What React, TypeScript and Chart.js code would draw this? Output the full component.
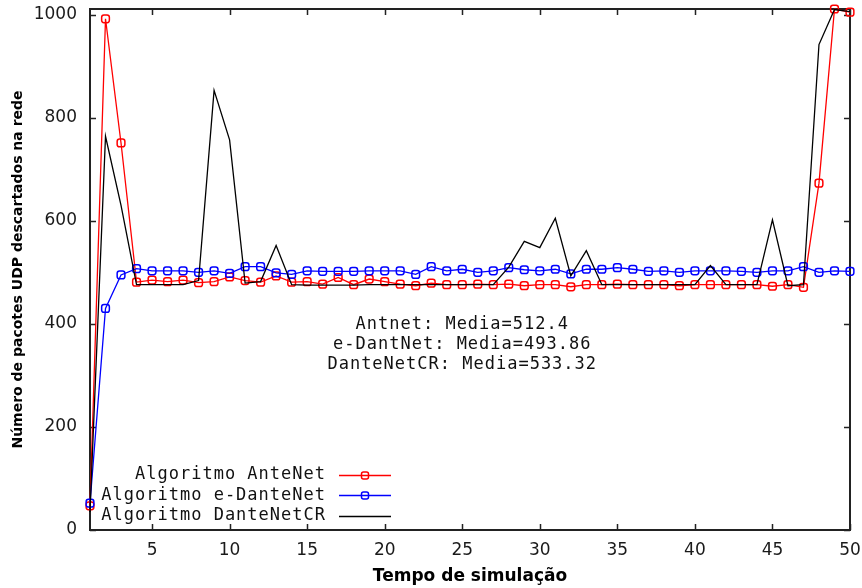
import React, { useEffect, useRef } from 'react';
import { Chart, registerables } from 'chart.js';

Chart.register(...registerables);

// ---- data ----
const steps = [1, 2, 3, 4, 5, 6, 7, 8, 9, 10, 11, 12, 13, 14, 15, 16, 17, 18, 19, 20, 21, 22, 23, 24, 25, 26, 27, 28, 29, 30, 31, 32, 33, 34, 35, 36, 37, 38, 39, 40, 41, 42, 43, 44, 45, 46, 47, 48, 49, 50];

const anteNet = [47, 992, 751, 481, 485, 482, 485, 480, 482, 491, 484, 481, 493, 481, 482, 477, 490, 476, 487, 482, 477, 474, 479, 476, 476, 477, 476, 477, 474, 476, 476, 472, 476, 476, 477, 476, 476, 476, 474, 476, 476, 476, 476, 476, 473, 476, 471, 673, 1011, 1005];

const eDanteNet = [52, 430, 495, 507, 503, 503, 503, 500, 503, 498, 511, 511, 499, 496, 503, 502, 502, 502, 503, 503, 503, 496, 511, 503, 506, 500, 503, 509, 505, 503, 506, 497, 506, 506, 509, 506, 502, 503, 500, 503, 503, 503, 502, 500, 503, 503, 511, 500, 503, 502];

const danteNetCR = [35, 764, 630, 476, 476, 476, 476, 484, 853, 757, 479, 482, 552, 476, 475, 475, 475, 475, 476, 476, 476, 476, 476, 476, 476, 476, 476, 510, 560, 548, 605, 493, 542, 476, 476, 476, 476, 476, 476, 476, 513, 476, 476, 476, 602, 474, 476, 942, 1010, 1006];

const xTicks = [5, 10, 15, 20, 25, 30, 35, 40, 45, 50];
const yTicks = [0, 200, 400, 600, 800, 1000];

const seriesLabels = ['Algoritmo AnteNet', 'Algoritmo e-DanteNet', 'Algoritmo DanteNetCR'];
const seriesColors = ['#ff0000', '#0000ff', '#000000'];
const seriesMarkers = [true, true, false];
const mediaLines = ['Antnet: Media=512.4', 'e-DantNet: Media=493.86', 'DanteNetCR: Media=533.32'];
const yTitle = 'Número de pacotes UDP descartados na rede';
const xTitle = 'Tempo de simulação';

const MONO = '17px "DejaVu Sans Mono"';

const decorPlugin = {
  id: 'decor',
  beforeDatasetsDraw(chart: any) {
    const { ctx, chartArea: a, scales } = chart;
    ctx.save();
    ctx.strokeStyle = '#222';
    ctx.lineWidth = 1.5;
    const tl = 6;
    ctx.beginPath();
    for (const v of xTicks) {
      const x = Math.round(scales.x.getPixelForValue(v)) + 0.5;
      ctx.moveTo(x, a.bottom); ctx.lineTo(x, a.bottom - tl);
      ctx.moveTo(x, a.top); ctx.lineTo(x, a.top + tl);
    }
    for (const v of yTicks) {
      const y = Math.round(scales.y.getPixelForValue(v)) + 0.5;
      ctx.moveTo(a.left, y); ctx.lineTo(a.left + tl, y);
      ctx.moveTo(a.right, y); ctx.lineTo(a.right - tl, y);
    }
    ctx.stroke();
    ctx.lineWidth = 2;
    ctx.strokeRect(a.left, a.top, a.right - a.left, a.bottom - a.top);
    ctx.restore();
  },
  afterDraw(chart: any) {
    const { ctx, chartArea: a, scales } = chart;
    ctx.save();
    ctx.font = MONO;
    (ctx as any).letterSpacing = '1px';
    ctx.fillStyle = '#111';
    ctx.textBaseline = 'middle';

    // mean annotations
    ctx.textAlign = 'center';
    const cx = scales.x.getPixelForValue(25);
    const cy = scales.y.getPixelForValue(398);
    mediaLines.forEach((t, i) => {
      ctx.fillText(t, cx, cy + i * 20);
    });

    // legend
    const textRight = a.left + 236;
    const sampleL = textRight + 13;
    const sampleR = sampleL + 52;
    seriesLabels.forEach((lab, i) => {
      const y = a.bottom - 55 + i * 20.4;
      ctx.textAlign = 'right';
      ctx.fillStyle = '#111';
      ctx.fillText(lab, textRight, y);
      ctx.strokeStyle = seriesColors[i];
      ctx.lineWidth = 1.5;
      ctx.beginPath();
      ctx.moveTo(sampleL, Math.round(y) + 0.5);
      ctx.lineTo(sampleR, Math.round(y) + 0.5);
      ctx.stroke();
      if (seriesMarkers[i]) {
        ctx.lineWidth = 1.5;
        ctx.beginPath();
        (ctx as any).roundRect
          ? (ctx as any).roundRect((sampleL + sampleR) / 2 - 3.5, Math.round(y) + 0.5 - 3.5, 7, 7, 2)
          : ctx.rect((sampleL + sampleR) / 2 - 3.5, Math.round(y) + 0.5 - 3.5, 7, 7);
        ctx.stroke();
      }
    });
    ctx.restore();
  },
};

function makeData(values: number[]) {
  return steps.map((x, i) => ({ x, y: values[i] }));
}

function zeroPad(s: any) {
  s.paddingTop = 0;
  s.paddingBottom = 0;
  s.paddingLeft = 0;
  s.paddingRight = 0;
}

export default function App() {
  const canvasRef = useRef<HTMLCanvasElement | null>(null);

  useEffect(() => {
    if (!canvasRef.current) return;
    const seriesValues = [anteNet, eDanteNet, danteNetCR];
    const chart = new Chart(canvasRef.current, {
      type: 'line',
      data: {
        datasets: seriesValues.map((vals, i) => ({
          label: seriesLabels[i],
          data: makeData(vals),
          borderColor: seriesColors[i],
          backgroundColor: 'rgba(0,0,0,0)',
          borderWidth: 1.3,
          pointStyle: 'rectRounded',
          pointRadius: seriesMarkers[i] ? 4.5 : 0,
          pointBorderWidth: 1.5,
          pointBorderColor: seriesColors[i],
          pointBackgroundColor: 'rgba(0,0,0,0)',
          tension: 0,
          clip: false as any,
          order: 2 - i,
        })),
      },
      options: {
        responsive: false,
        animation: false,
        layout: { autoPadding: false, padding: { left: 0, right: 12, top: 9, bottom: 0 } },
        plugins: {
          legend: { display: false },
          tooltip: { enabled: false },
        },
        scales: {
          x: {
            type: 'linear',
            min: 1,
            max: 50,
            grid: { display: false, drawTicks: false },
            border: { display: false },
            afterBuildTicks: (s: any) => { s.ticks = xTicks.map((v) => ({ value: v })); },
            afterFit: (s: any) => { s.height = 58; zeroPad(s); },
            ticks: {
              padding: 12,
              color: '#1a1a1a',
              maxRotation: 0,
              autoSkip: false,
              callback: (v: any) => String(v),
              font: { family: '"DejaVu Sans"', size: 17, lineHeight: 1 },
            },
            title: {
              display: true,
              text: xTitle,
              color: '#000',
              padding: { top: 0, bottom: 2.5 },
              font: { family: '"DejaVu Sans"', size: 17, weight: 'bold', lineHeight: 1 },
            },
          },
          y: {
            type: 'linear',
            min: 0,
            max: 1011,
            grid: { display: false, drawTicks: false },
            border: { display: false },
            afterBuildTicks: (s: any) => { s.ticks = yTicks.map((v) => ({ value: v })); },
            afterFit: (s: any) => { s.width = 90; zeroPad(s); },
            ticks: {
              padding: 13,
              color: '#1a1a1a',
              autoSkip: false,
              callback: (v: any) => String(v),
              font: { family: '"DejaVu Sans"', size: 17, lineHeight: 1 },
            },
            title: {
              display: true,
              text: yTitle,
              color: '#000',
              padding: { top: 10, bottom: 0 },
              font: { family: '"DejaVu Sans"', size: 14, weight: 'bold' },
            },
          },
        },
      } as any,
      plugins: [decorPlugin],
    });
    return () => chart.destroy();
  }, []);

  return (
    <div style={{ position: 'absolute', left: 0, top: 0, width: 862, height: 588, background: '#fff' }}>
      <canvas ref={canvasRef} width={862} height={588} style={{ display: 'block' }} />
    </div>
  );
}
